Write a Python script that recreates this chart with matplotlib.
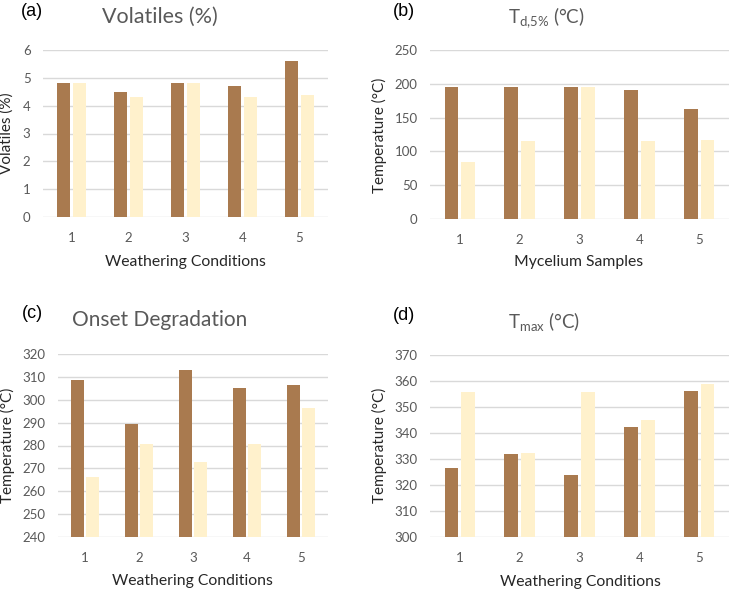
import numpy as np
import matplotlib
matplotlib.use("Agg")
import matplotlib.pyplot as plt

plt.rcParams['font.family'] = ['Lato', 'DejaVu Sans']

# data
samples = [1, 2, 3, 4, 5]

vol_dark = [4.8, 4.5, 4.8, 4.7, 5.6]
vol_light = [4.8, 4.3, 4.8, 4.3, 4.4]

td5_dark = [195, 196, 195, 191, 163]
td5_light = [85, 116, 195, 116, 117]

onset_dark = [308.8, 289.3, 312.9, 305, 306.6]
onset_light = [266.2, 280.7, 272.8, 280.7, 296.6]

tmax_dark = [326.7, 331.9, 323.8, 342.4, 356]
tmax_light = [355.6, 332.4, 355.6, 345.1, 358.8]

dark = '#A97A4F'
light = '#FFF1CC'
grid_c = '#D9D9D9'
tick_c = '#595959'

W, H = 729, 591
fig = plt.figure(figsize=(W / 100, H / 100), dpi=100)


def px(x0, y0, x1, y1):
    # pixel box -> figure fraction rect
    return [x0 / W, 1 - y1 / H, (x1 - x0) / W, (y1 - y0) / H]


def panel(rect, d1, d2, ylim, step):
    ax = fig.add_axes(rect)
    x = np.array(samples)
    b = ylim[0]
    ax.bar(x - 0.14, np.array(d1) - b, bottom=b, width=0.23, color=dark, zorder=3)
    ax.bar(x + 0.14, np.array(d2) - b, bottom=b, width=0.23, color=light, zorder=3)
    ax.set_xlim(0.5, 5.5)
    ax.set_ylim(*ylim)
    ax.set_yticks(np.arange(ylim[0], ylim[1] + step / 2, step))
    ax.set_xticks(x)
    for s in ax.spines.values():
        s.set_visible(False)
    ax.yaxis.grid(True, color=grid_c, linewidth=1, zorder=0)
    ax.tick_params(length=0, labelsize=9.5, labelcolor=tick_c)
    ax.tick_params(axis='y', pad=9)
    ax.tick_params(axis='x', pad=11)
    return ax


axa = panel(px(43, 50, 328, 217), vol_dark, vol_light, (0, 6), 1)
axb = panel(px(430, 50, 729, 219), td5_dark, td5_light, (0, 250), 50)
axc = panel(px(58, 354, 328, 537), onset_dark, onset_light, (240, 320), 10)
axd = panel(px(430, 355, 729, 537), tmax_dark, tmax_light, (300, 370), 10)


def ft(x, y, s, **kw):
    fig.text(x / W, 1 - y / H, s, ha='center', va='center', **kw)


# panel letters
for (x, y, s) in [(32, 11, '(a)'), (404, 11, '(b)'), (32, 313, '(c)'), (404, 316, '(d)')]:
    ft(x, y, s, fontsize=13, color='black', family=['Liberation Sans'])

# titles
ft(160, 17, 'Volatiles (%)', fontsize=15.5, color=tick_c)
ft(546, 18, r'T$_{\mathregular{d{,}5\%}}$ (°C)', fontsize=13.5, color=tick_c)
ft(160, 320, 'Onset Degradation', fontsize=15, color=tick_c)
ft(544, 322, r'T$_{\mathregular{max}}$ (°C)', fontsize=13.5, color=tick_c)

# x labels
lab_c = '#262626'
ft(185, 262, 'Weathering Conditions', fontsize=11.3, color=lab_c)
ft(579, 262, 'Mycelium Samples', fontsize=11.3, color=lab_c)
ft(192, 581, 'Weathering Conditions', fontsize=11.3, color=lab_c)
ft(580, 582, 'Weathering Conditions', fontsize=11.3, color=lab_c)

# y labels
ft(7, 133, 'Volatiles (%)', fontsize=11, color=lab_c, rotation=90)
ft(379, 135, 'Temperature (°C)', fontsize=11, color=lab_c, rotation=90)
ft(7, 445, 'Temperature (°C)', fontsize=11, color=lab_c, rotation=90)
ft(379, 445, 'Temperature (°C)', fontsize=11, color=lab_c, rotation=90)

fig.savefig('out.png', dpi=100)
